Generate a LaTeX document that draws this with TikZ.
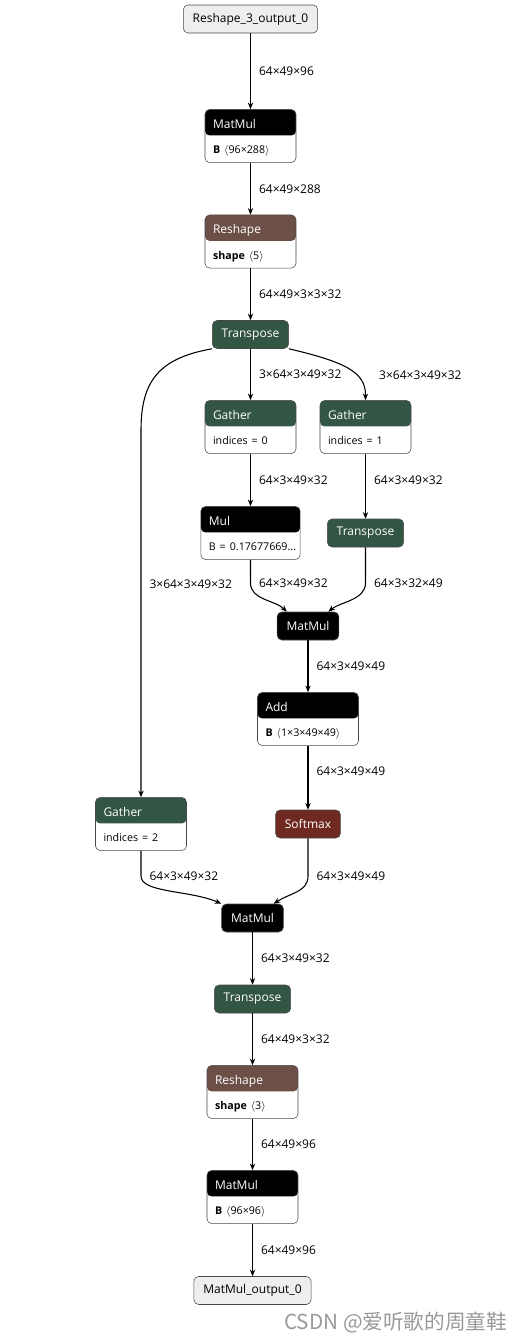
\documentclass[tikz,border=0pt]{standalone}
\usepackage{fontspec}
\setmainfont{Open Sans}
\newfontfamily\cjk{Noto Sans CJK SC}
\usetikzlibrary{shapes.multipart, arrows.meta}
\definecolor{opgreen}{RGB}{51,85,68}
\definecolor{opbrown}{RGB}{108,79,71}
\definecolor{opred}{RGB}{112,41,33}
\definecolor{iogray}{RGB}{238,238,238}
\definecolor{rim}{RGB}{72,72,72}
\newcommand{\partstrut}{\rule[-6.5pt]{0pt}{19.5pt}}

\begin{document}
\begin{tikzpicture}[
  x=0.75pt, y=-0.75pt,
  io/.style={draw=rim, fill=iogray, rounded corners=3.5pt, minimum height=21pt, inner xsep=7pt, font=\small},
  op/.style={draw=rim, fill=#1, text=white, rounded corners=3.5pt, minimum height=21pt, inner xsep=7pt, font=\small},
  opbox/.style={rectangle split, rectangle split parts=2, rectangle split draw splits=false,
    draw=rim, fill=white, rounded corners=3.5pt, inner xsep=6pt, inner ysep=0pt,
    text height=14pt, text depth=5.5pt, text width=56.25pt, align=left, text=white, font=\small,
    path picture={\fill[#1] (path picture bounding box.north west) rectangle ([yshift=-19.5pt]path picture bounding box.north east);}},
  arrow/.style={-{Stealth[length=5pt,width=4pt]}, line width=0.8pt},
  lbl/.style={right=6pt, inner sep=0pt, font=\small}
]
\useasboundingbox (0,0) rectangle (528,1341);
% top chain
\node[io] (inp) at (250.5,19) {Reshape\_3\_output\_0};
\node[opbox=black] (mm1) at (250.5,136) {MatMul\nodepart{two}\partstrut\color{black}\footnotesize\textbf{B} $\langle$96×288$\rangle$};
\node[opbox=opbrown] (resh1) at (250.5,241.5) {Reshape\nodepart{two}\partstrut\color{black}\footnotesize\textbf{shape} $\langle$5$\rangle$};
\node[op=opgreen] (tr1) at (250.5,334.5) {Transpose};
% q, k, v branches
\node[opbox=opgreen] (gat0) at (250.5,427) {Gather\nodepart{two}\partstrut\color{black}\footnotesize indices = 0};
\node[opbox=opgreen] (gat1) at (365.5,427) {Gather\nodepart{two}\partstrut\color{black}\footnotesize indices = 1};
\node[opbox=black, text width=62.5pt] (mul) at (250.5,533) {Mul\nodepart{two}\partstrut\color{black}\footnotesize B~=~0.17677669...};
\node[op=opgreen] (tr2) at (365.5,533) {Transpose};
\node[op=black] (mm2) at (308,626) {MatMul};
\node[opbox=black, text width=63.75pt] (add) at (308,719) {Add\nodepart{two}\partstrut\color{black}\footnotesize\textbf{B} $\langle$1×3×49×49$\rangle$};
\node[op=opred] (soft) at (308,824) {Softmax};
\node[opbox=opgreen] (gat2) at (141,824) {Gather\nodepart{two}\partstrut\color{black}\footnotesize indices = 2};
% bottom chain
\node[op=black] (mm3) at (252.5,918) {MatMul};
\node[op=opgreen] (tr3) at (252.5,999) {Transpose};
\node[opbox=opbrown] (resh2) at (252.5,1092) {Reshape\nodepart{two}\partstrut\color{black}\footnotesize\textbf{shape} $\langle$3$\rangle$};
\node[opbox=black] (mm4) at (252.5,1197) {MatMul\nodepart{two}\partstrut\color{black}\footnotesize\textbf{B} $\langle$96×96$\rangle$};
\node[io] (outp) at (252.5,1290.5) {MatMul\_output\_0};
\node[anchor=east, text=black!40, font=\cjk\fontsize{15.5}{18}\selectfont] (mark) at (512,1322) {CSDN @爱听歌的周童鞋};
% edges
\draw[arrow] (inp) -- (mm1) node[lbl, midway] {64×49×96};
\draw[arrow] (mm1) -- (resh1) node[lbl, midway] {64×49×288};
\draw[arrow] (resh1) -- (tr1) node[lbl, midway] {64×49×3×3×32};
\draw[arrow] (tr1) -- (gat0) node[lbl, midway] {3×64×3×49×32};
\draw[arrow] (tr1.south east) .. controls (345,362) and (365.5,372) .. node[lbl, pos=0.65, right=10pt] {3×64×3×49×32} (365.5,395) -- (gat1);
\draw[arrow] (tr1.south west) .. controls (160,358) and (141,380) .. (141,430) -- node[lbl, pos=0.42] {3×64×3×49×32} (gat2);
\draw[arrow] (gat0) -- (mul) node[lbl, midway] {64×3×49×32};
\draw[arrow] (gat1) -- (tr2) node[lbl, pos=0.4] {64×3×49×32};
\draw[arrow] (mul.south) -- (250.5,583) node[lbl] {64×3×49×32} .. controls (250.5,600) and (275,600) .. (mm2.146);
\draw[arrow] (tr2.south) -- (365.5,583) node[lbl] {64×3×32×49} .. controls (365.5,600) and (340,602) .. (mm2.35);
\draw[arrow] (mm2) -- (add) node[lbl, midway] {64×3×49×49};
\draw[arrow] (add) -- (soft) node[lbl, pos=0.4] {64×3×49×49};
\draw[arrow] (gat2.south) -- (141,876) node[lbl] {64×3×49×32} .. controls (141,893) and (190,890) .. (mm3.north west);
\draw[arrow] (soft.south) -- (308,876) node[lbl] {64×3×49×49} .. controls (308,892) and (290,893) .. (mm3.34);
\draw[arrow] (mm3) -- (tr3) node[lbl, midway] {64×3×49×32};
\draw[arrow] (tr3) -- (resh2) node[lbl, midway] {64×49×3×32};
\draw[arrow] (resh2) -- (mm4) node[lbl, midway] {64×49×96};
\draw[arrow] (mm4) -- (outp) node[lbl, midway] {64×49×96};
\end{tikzpicture}
\end{document}
